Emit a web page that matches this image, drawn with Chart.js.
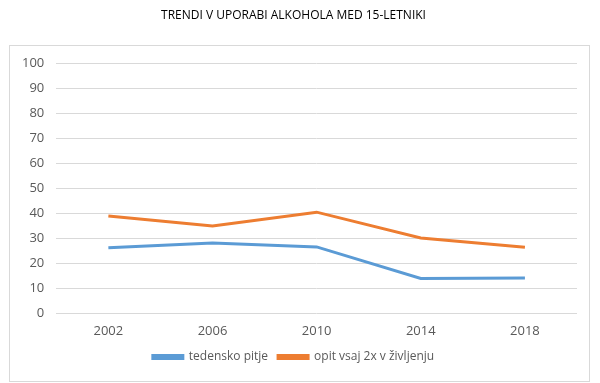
<!DOCTYPE html>
<html>
<head>
<meta charset="utf-8">
<script src="https://cdn.jsdelivr.net/npm/chart.js@4"></script>
<style>
  html, body { margin: 0; padding: 0; background: #fff; }
  #wrap { width: 600px; height: 383px; }
</style>
</head>
<body>
<div id="wrap"><canvas id="chart" width="600" height="383"></canvas></div>
<script>
const years = ["2002", "2006", "2010", "2014", "2018"];
const weeklyDrinking = [26.3, 28.2, 26.6, 14.0, 14.2];
const drunkTwice = [39.0, 35.0, 40.5, 30.2, 26.5];
const yTicks = [0, 10, 20, 30, 40, 50, 60, 70, 80, 90, 100];

// light grey frame around the plot, like the Excel chart area
const framePlugin = {
    id: "frame",
    afterDraw(chart) {
        const ctx = chart.ctx;
        ctx.save();
        ctx.strokeStyle = "#d9d9d9";
        ctx.lineWidth = 1;
        ctx.strokeRect(9.5, 45.5, 580, 336);
        ctx.restore();
    }
};

new Chart(document.getElementById("chart"), {
    type: "line",
    data: {
        labels: years,
        datasets: [
            {
                label: "tedensko pitje",
                data: weeklyDrinking,
                borderColor: "#5b9bd5",
                backgroundColor: "#5b9bd5",
                borderWidth: 3,
                pointRadius: 0,
                tension: 0
            },
            {
                label: "opit vsaj 2x v življenju",
                data: drunkTwice,
                borderColor: "#ed7d31",
                backgroundColor: "#ed7d31",
                borderWidth: 3,
                pointRadius: 0,
                tension: 0
            }
        ]
    },
    options: {
        responsive: false,
        animation: false,
        layout: { padding: { left: 10, right: 23, top: 0, bottom: 10 } },
        plugins: {
            title: {
                display: true,
                text: "TRENDI V UPORABI ALKOHOLA MED 15-LETNIKI",
                color: "#000",
                font: { family: "Open Sans", size: 12, weight: "normal" },
                padding: { top: 8, bottom: 41 }
            },
            legend: {
                position: "bottom",
                labels: {
                    color: "#595959",
                    font: { family: "Open Sans", size: 12 },
                    boxWidth: 30,
                    boxHeight: 3,
                    padding: 10
                }
            },
            tooltip: { enabled: false }
        },
        scales: {
            x: {
                offset: true,
                grid: { display: false },
                border: { display: false },
                ticks: {
                    color: "#595959",
                    font: { family: "Open Sans", size: 13 },
                    padding: 2
                }
            },
            y: {
                min: 0,
                max: 100,
                afterBuildTicks(axis) {
                    axis.ticks = yTicks.map(v => ({ value: v }));
                },
                grid: { color: "#d9d9d9", drawTicks: false },
                border: { display: false },
                ticks: {
                    color: "#595959",
                    font: { family: "Open Sans", size: 13 },
                    padding: 12
                }
            }
        }
    },
    plugins: [framePlugin]
});
</script>
</body>
</html>
